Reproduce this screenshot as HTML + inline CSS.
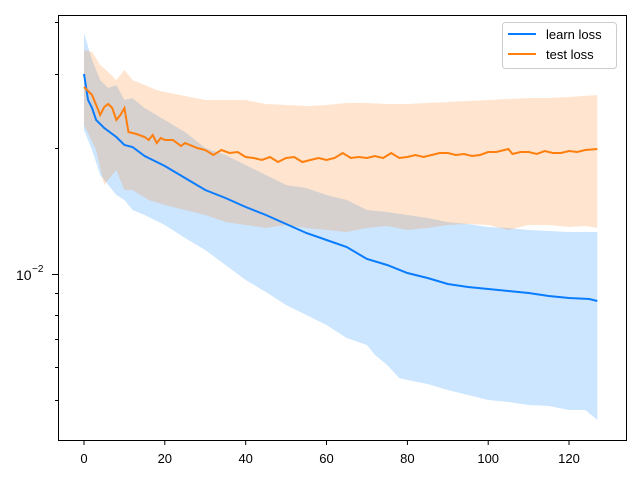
<!DOCTYPE html>
<html><head><meta charset="utf-8"><style>body{margin:0;background:#fff}svg{display:block}text{font-family:"Liberation Sans",sans-serif;font-size:13px;fill:#000}</style></head><body>
<svg width="640" height="480" xmlns="http://www.w3.org/2000/svg">
<rect width="640" height="480" fill="#fff"/>
<g transform="translate(84,0) scale(4.042,1)">
<polygon fill="rgba(0,128,255,0.2)" points="0,33 2,60 4,80 6,88 8,85 10,100 12,98 15,108 20,120 25,132 30,148 35,155 40,165 45,175 50,185 55,188 60,195 65,200 70,210 75,212 80,215 85,218 90,222 95,224 100,227 105,228 110,230 115,231 120,232 127,232 127,420 124,410 120,410 115,406 110,405 105,402 100,400 95,395 90,390 85,384 80,380 78,378 75,365 72,355 70,345 65,338 60,325 55,315 50,305 45,292 40,280 35,265 30,250 25,238 20,225 15,215 12,210 10,200 8,195 6,185 4,175 2,150 0,130"/>
<polygon fill="rgba(255,127,14,0.2)" points="0,50 2,52 4,65 6,72 8,80 10,70 12,80 15,85 18,90 20,92 25,96 30,100 35,100 40,100 45,104 50,105 55,106 60,105 65,103 70,103 75,104 80,104 85,103 90,102 95,101 100,100 105,99 110,98 115,98 120,97 127,95 127,228 124,226 120,227 115,225 110,225 105,230 100,225 95,224 90,225 85,228 80,230 75,226 70,228 65,232 60,230 55,228 50,225 45,228 40,225 35,222 30,215 25,210 20,205 16,200 12,190 10,190 8,170 6,180 5,185 3,150 0,125"/>
<polyline fill="none" stroke="#0a7cff" stroke-width="2" vector-effect="non-scaling-stroke" points="0,74 1,100 2,108 3,120 5,128 8,137 10,145 12,147 15,156 20,166 25,178 30,190 35,198 40,207 45,215 50,224 55,233 60,240 65,247 70,259 75,265 80,273 85,278 90,284 95,287 100,289 105,291 110,293 115,296 120,298 125,299 127,301"/>
<polyline fill="none" stroke="#ff7f0e" stroke-width="2" vector-effect="non-scaling-stroke" points="0,87 2,95 4,115 5,107 6,104 7,108 8,120 9,115 10,108 11,132 13,134 15,137 16,140 17,135 18,143 19,138 20,140 22,140 24,146 25,143 28,148 30,150 32,155 34,150 36,153 38,152 40,157 42,158 44,160 46,157 48,162 50,158 52,157 54,162 56,160 58,158 60,160 62,158 64,153 66,158 68,157 70,158 72,156 74,158 76,153 78,158 80,157 82,155 84,157 86,155 88,153 90,153 92,155 94,154 96,156 98,155 100,152 102,152 104,150 105,149 106,154 108,152 110,152 112,154 114,151 116,153 118,153 120,151 122,152 124,150 127,149"/>
</g>
<rect x="58.5" y="15.5" width="568" height="425" fill="none" stroke="#000" stroke-width="1"/>
<g stroke="#000" stroke-width="1">
<line x1="84" y1="440" x2="84" y2="445"/><line x1="164.8" y1="440" x2="164.8" y2="445"/><line x1="245.7" y1="440" x2="245.7" y2="445"/><line x1="326.5" y1="440" x2="326.5" y2="445"/><line x1="407.4" y1="440" x2="407.4" y2="445"/><line x1="488.2" y1="440" x2="488.2" y2="445"/><line x1="569" y1="440" x2="569" y2="445"/>
<line x1="52" y1="274.5" x2="58" y2="274.5"/>
<line x1="55" y1="22.5" x2="58" y2="22.5"/><line x1="55" y1="74.5" x2="58" y2="74.5"/><line x1="55" y1="148.5" x2="58" y2="148.5"/><line x1="55" y1="293.5" x2="58" y2="293.5"/><line x1="55" y1="315.5" x2="58" y2="315.5"/><line x1="55" y1="339.5" x2="58" y2="339.5"/><line x1="55" y1="367.5" x2="58" y2="367.5"/><line x1="55" y1="400.5" x2="58" y2="400.5"/>
</g>
<g text-anchor="middle">
<text x="84" y="463">0</text><text x="164.8" y="463">20</text><text x="245.7" y="463">40</text><text x="326.5" y="463">60</text><text x="407.4" y="463">80</text><text x="488.2" y="463">100</text><text x="569" y="463">120</text>
</g>
<text x="16" y="280" style="font-size:14px">10</text><text x="32" y="272" style="font-size:10px">−2</text>
<rect x="502.5" y="22.5" width="114" height="46" rx="3" fill="#fff" fill-opacity="0.8" stroke="#ccc"/>
<line x1="508" y1="34" x2="536" y2="34" stroke="#0a7cff" stroke-width="2"/>
<line x1="508" y1="54" x2="536" y2="54" stroke="#ff7f0e" stroke-width="2"/>
<text x="546" y="39">learn loss</text><text x="546" y="59">test loss</text>
</svg>
</body></html>
